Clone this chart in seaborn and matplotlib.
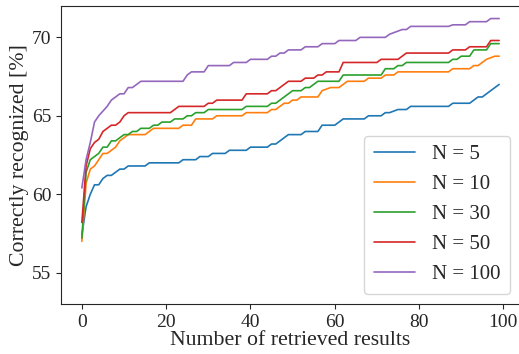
import seaborn as sns
import pandas as pd
import matplotlib
matplotlib.use("Agg")
import matplotlib.pyplot as plt

# x = number of retrieved results (0..99)
retrieved = list(range(100))

n5 = [57.4, 59.2, 60.0, 60.6, 60.6, 61.0, 61.2, 61.2, 61.4, 61.6,
      61.6, 61.8, 61.8, 61.8, 61.8, 61.8, 62.0, 62.0, 62.0, 62.0,
      62.0, 62.0, 62.0, 62.0, 62.2, 62.2, 62.2, 62.2, 62.4, 62.4,
      62.4, 62.6, 62.6, 62.6, 62.6, 62.8, 62.8, 62.8, 62.8, 62.8,
      63.0, 63.0, 63.0, 63.0, 63.0, 63.2, 63.2, 63.4, 63.6, 63.8,
      63.8, 63.8, 63.8, 64.0, 64.0, 64.0, 64.0, 64.4, 64.4, 64.4,
      64.4, 64.6, 64.8, 64.8, 64.8, 64.8, 64.8, 64.8, 65.0, 65.0,
      65.0, 65.0, 65.2, 65.2, 65.3, 65.4, 65.4, 65.4, 65.6, 65.6,
      65.6, 65.6, 65.6, 65.6, 65.6, 65.6, 65.6, 65.6, 65.8, 65.8,
      65.8, 65.8, 65.8, 66.0, 66.2, 66.2, 66.4, 66.6, 66.8, 67.0]

n10 = [57.0, 60.7, 61.6, 61.8, 62.2, 62.6, 62.6, 62.8, 63.0, 63.4,
       63.6, 63.8, 63.8, 63.8, 63.8, 63.8, 64.0, 64.2, 64.2, 64.2,
       64.2, 64.2, 64.2, 64.2, 64.4, 64.4, 64.4, 64.8, 64.8, 64.8,
       64.8, 64.8, 65.0, 65.0, 65.0, 65.0, 65.0, 65.0, 65.0, 65.2,
       65.2, 65.2, 65.2, 65.2, 65.2, 65.4, 65.4, 65.6, 65.8, 65.8,
       66.0, 66.0, 66.2, 66.2, 66.2, 66.2, 66.2, 66.6, 66.7, 66.8,
       66.8, 66.8, 67.0, 67.2, 67.2, 67.2, 67.2, 67.2, 67.4, 67.4,
       67.4, 67.4, 67.6, 67.6, 67.6, 67.8, 67.8, 67.8, 67.8, 67.8,
       67.8, 67.8, 67.8, 67.8, 67.8, 67.8, 67.8, 67.8, 68.0, 68.0,
       68.0, 68.0, 68.0, 68.2, 68.2, 68.4, 68.6, 68.7, 68.8, 68.8]

n30 = [57.2, 61.4, 62.2, 62.4, 62.6, 63.0, 63.0, 63.4, 63.4, 63.6,
       63.8, 63.8, 64.0, 64.0, 64.2, 64.2, 64.2, 64.4, 64.4, 64.6,
       64.6, 64.6, 64.8, 64.8, 64.8, 65.0, 65.0, 65.2, 65.2, 65.2,
       65.4, 65.4, 65.4, 65.4, 65.4, 65.4, 65.4, 65.4, 65.4, 65.6,
       65.6, 65.6, 65.6, 65.6, 65.6, 65.8, 65.8, 66.0, 66.2, 66.4,
       66.6, 66.6, 66.6, 66.8, 66.8, 67.0, 67.2, 67.2, 67.2, 67.2,
       67.2, 67.2, 67.6, 67.6, 67.6, 67.6, 67.6, 67.6, 67.6, 67.6,
       67.6, 67.6, 68.0, 68.0, 68.0, 68.2, 68.2, 68.4, 68.4, 68.4,
       68.4, 68.4, 68.4, 68.4, 68.4, 68.4, 68.4, 68.4, 68.6, 68.6,
       68.8, 68.8, 68.8, 69.2, 69.2, 69.2, 69.2, 69.6, 69.6, 69.6]

n50 = [58.2, 61.8, 62.9, 63.3, 63.5, 64.0, 64.2, 64.4, 64.4, 64.6,
       65.0, 65.2, 65.2, 65.2, 65.2, 65.2, 65.2, 65.2, 65.2, 65.2,
       65.2, 65.2, 65.4, 65.6, 65.6, 65.6, 65.6, 65.6, 65.6, 65.6,
       65.8, 65.8, 66.0, 66.0, 66.0, 66.0, 66.0, 66.0, 66.0, 66.4,
       66.4, 66.4, 66.4, 66.4, 66.4, 66.6, 66.6, 66.8, 67.0, 67.2,
       67.2, 67.2, 67.2, 67.4, 67.4, 67.4, 67.6, 67.6, 67.8, 67.8,
       67.8, 67.8, 68.4, 68.4, 68.4, 68.4, 68.4, 68.4, 68.4, 68.4,
       68.4, 68.6, 68.6, 68.6, 68.6, 68.6, 68.8, 69.0, 69.0, 69.0,
       69.0, 69.0, 69.0, 69.0, 69.0, 69.0, 69.0, 69.0, 69.2, 69.2,
       69.2, 69.2, 69.4, 69.4, 69.4, 69.4, 69.4, 69.8, 69.8, 69.8]

n100 = [60.4, 62.2, 63.3, 64.6, 65.0, 65.3, 65.6, 66.0, 66.2, 66.4,
        66.4, 66.8, 66.8, 67.0, 67.2, 67.2, 67.2, 67.2, 67.2, 67.2,
        67.2, 67.2, 67.2, 67.2, 67.2, 67.6, 67.8, 67.8, 67.8, 67.8,
        68.2, 68.2, 68.2, 68.2, 68.2, 68.2, 68.4, 68.4, 68.4, 68.4,
        68.6, 68.6, 68.6, 68.6, 68.6, 68.8, 68.8, 69.0, 69.0, 69.2,
        69.2, 69.2, 69.2, 69.4, 69.4, 69.4, 69.4, 69.6, 69.6, 69.6,
        69.6, 69.8, 69.8, 69.8, 69.8, 69.8, 70.0, 70.0, 70.0, 70.0,
        70.0, 70.0, 70.0, 70.2, 70.3, 70.4, 70.5, 70.5, 70.7, 70.7,
        70.7, 70.7, 70.7, 70.7, 70.7, 70.7, 70.7, 70.7, 70.8, 70.8,
        70.8, 70.8, 71.0, 71.0, 71.0, 71.0, 71.0, 71.2, 71.2, 71.2]

labels = ["N = 5", "N = 10", "N = 30", "N = 50", "N = 100"]
series = [n5, n10, n30, n50, n100]

frames = []
for lab, vals in zip(labels, series):
    frames.append(pd.DataFrame({"x": retrieved, "y": vals, "N": lab}))
df = pd.concat(frames, ignore_index=True)

sns.set_style("ticks")
plt.rcParams["font.family"] = ["Liberation Serif", "DejaVu Serif"]

fig = plt.figure(figsize=(5.19, 3.54), dpi=100)
ax = fig.add_axes([61 / 519, 50 / 354, 459 / 519, 298 / 354])

sns.lineplot(data=df, x="x", y="y", hue="N", hue_order=labels,
             palette=sns.color_palette("tab10", 5), linewidth=1.2, ax=ax)

ax.set_xlim(-4.95, 103.95)
ax.set_ylim(53, 72)
ax.set_xticks([0, 20, 40, 60, 80, 100])
ax.set_yticks([55, 60, 65, 70])
ax.tick_params(labelsize=14)
ax.set_xlabel("Number of retrieved results", fontsize=15.7, labelpad=0)
ax.set_ylabel("Correctly recognized [%]", fontsize=15.7, labelpad=2)

leg = ax.legend(title=None, loc="lower right", fontsize=15,
                handlelength=2.0, labelspacing=0.5, borderpad=0.45,
                borderaxespad=0, bbox_to_anchor=(0.978, 0.034))

fig.savefig("out.png", dpi=100)
